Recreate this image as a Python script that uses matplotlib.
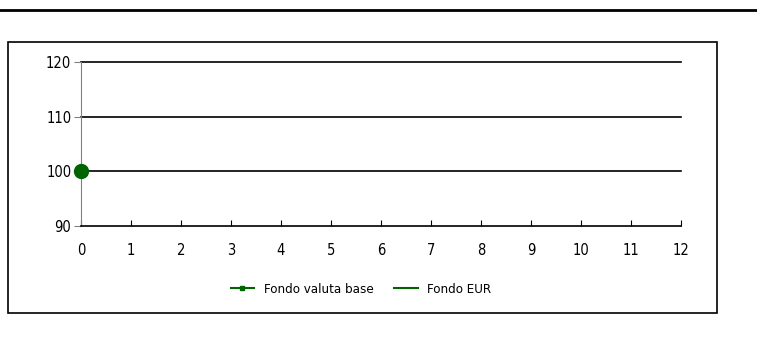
import matplotlib
matplotlib.use("Agg")
import matplotlib.pyplot as plt
from matplotlib.patches import Rectangle
from matplotlib.lines import Line2D

plt.rcParams['font.family'] = ['DejaVu Sans']
plt.rcParams['font.stretch'] = 'condensed'

# series: months since start, indexed value
months = [0]
fondo_base = [100]
fondo_eur = []
x_ticks = list(range(0, 13))
y_ticks = [90, 100, 110, 120]
green = '#006400'

fig = plt.figure(figsize=(7.57, 3.43), dpi=100)

# rule across the top and the panel frame
fig.add_artist(Line2D([0, 1], [0.971, 0.971], color='black', lw=2))
fig.add_artist(Rectangle((0.0106, 0.0875), 0.9366, 0.79, transform=fig.transFigure,
                         fill=False, edgecolor='black', lw=1.2))

ax = fig.add_axes([0.107, 0.341, 0.7926, 0.478])
ax.set_xlim(0, 12)
ax.set_ylim(90, 120)

for y in y_ticks[1:]:
    ax.axhline(y, color='black', lw=1.2, zorder=1, clip_on=False)

ax.plot(months, fondo_base, color=green, marker='o', markersize=10, lw=1.5,
        zorder=3, clip_on=False, label='Fondo valuta base')
ax.plot(fondo_eur, fondo_eur, color=green, lw=1.5, label='Fondo EUR')

ax.set_xticks(x_ticks)
ax.set_yticks(y_ticks)
for s in ['top', 'right']:
    ax.spines[s].set_visible(False)
ax.spines['left'].set_color('#808080')
ax.spines['bottom'].set_color('black')
ax.spines['bottom'].set_linewidth(1.2)
ax.tick_params(axis='x', direction='in', length=4, color='black', labelsize=10.5, pad=12)
ax.tick_params(axis='y', direction='out', length=5, color='#808080', labelsize=10.5, pad=2)

handles = [Line2D([], [], color=green, lw=1.5, marker='s', markersize=3),
           Line2D([], [], color=green, lw=1.5)]
fig.legend(handles, ['Fondo valuta base', 'Fondo EUR'], loc='center',
           bbox_to_anchor=(0.477, 0.157), ncol=2, frameon=False, fontsize=9.5,
           handlelength=1.8, columnspacing=1.6, handletextpad=0.7)

fig.savefig('out.png', dpi=100)
